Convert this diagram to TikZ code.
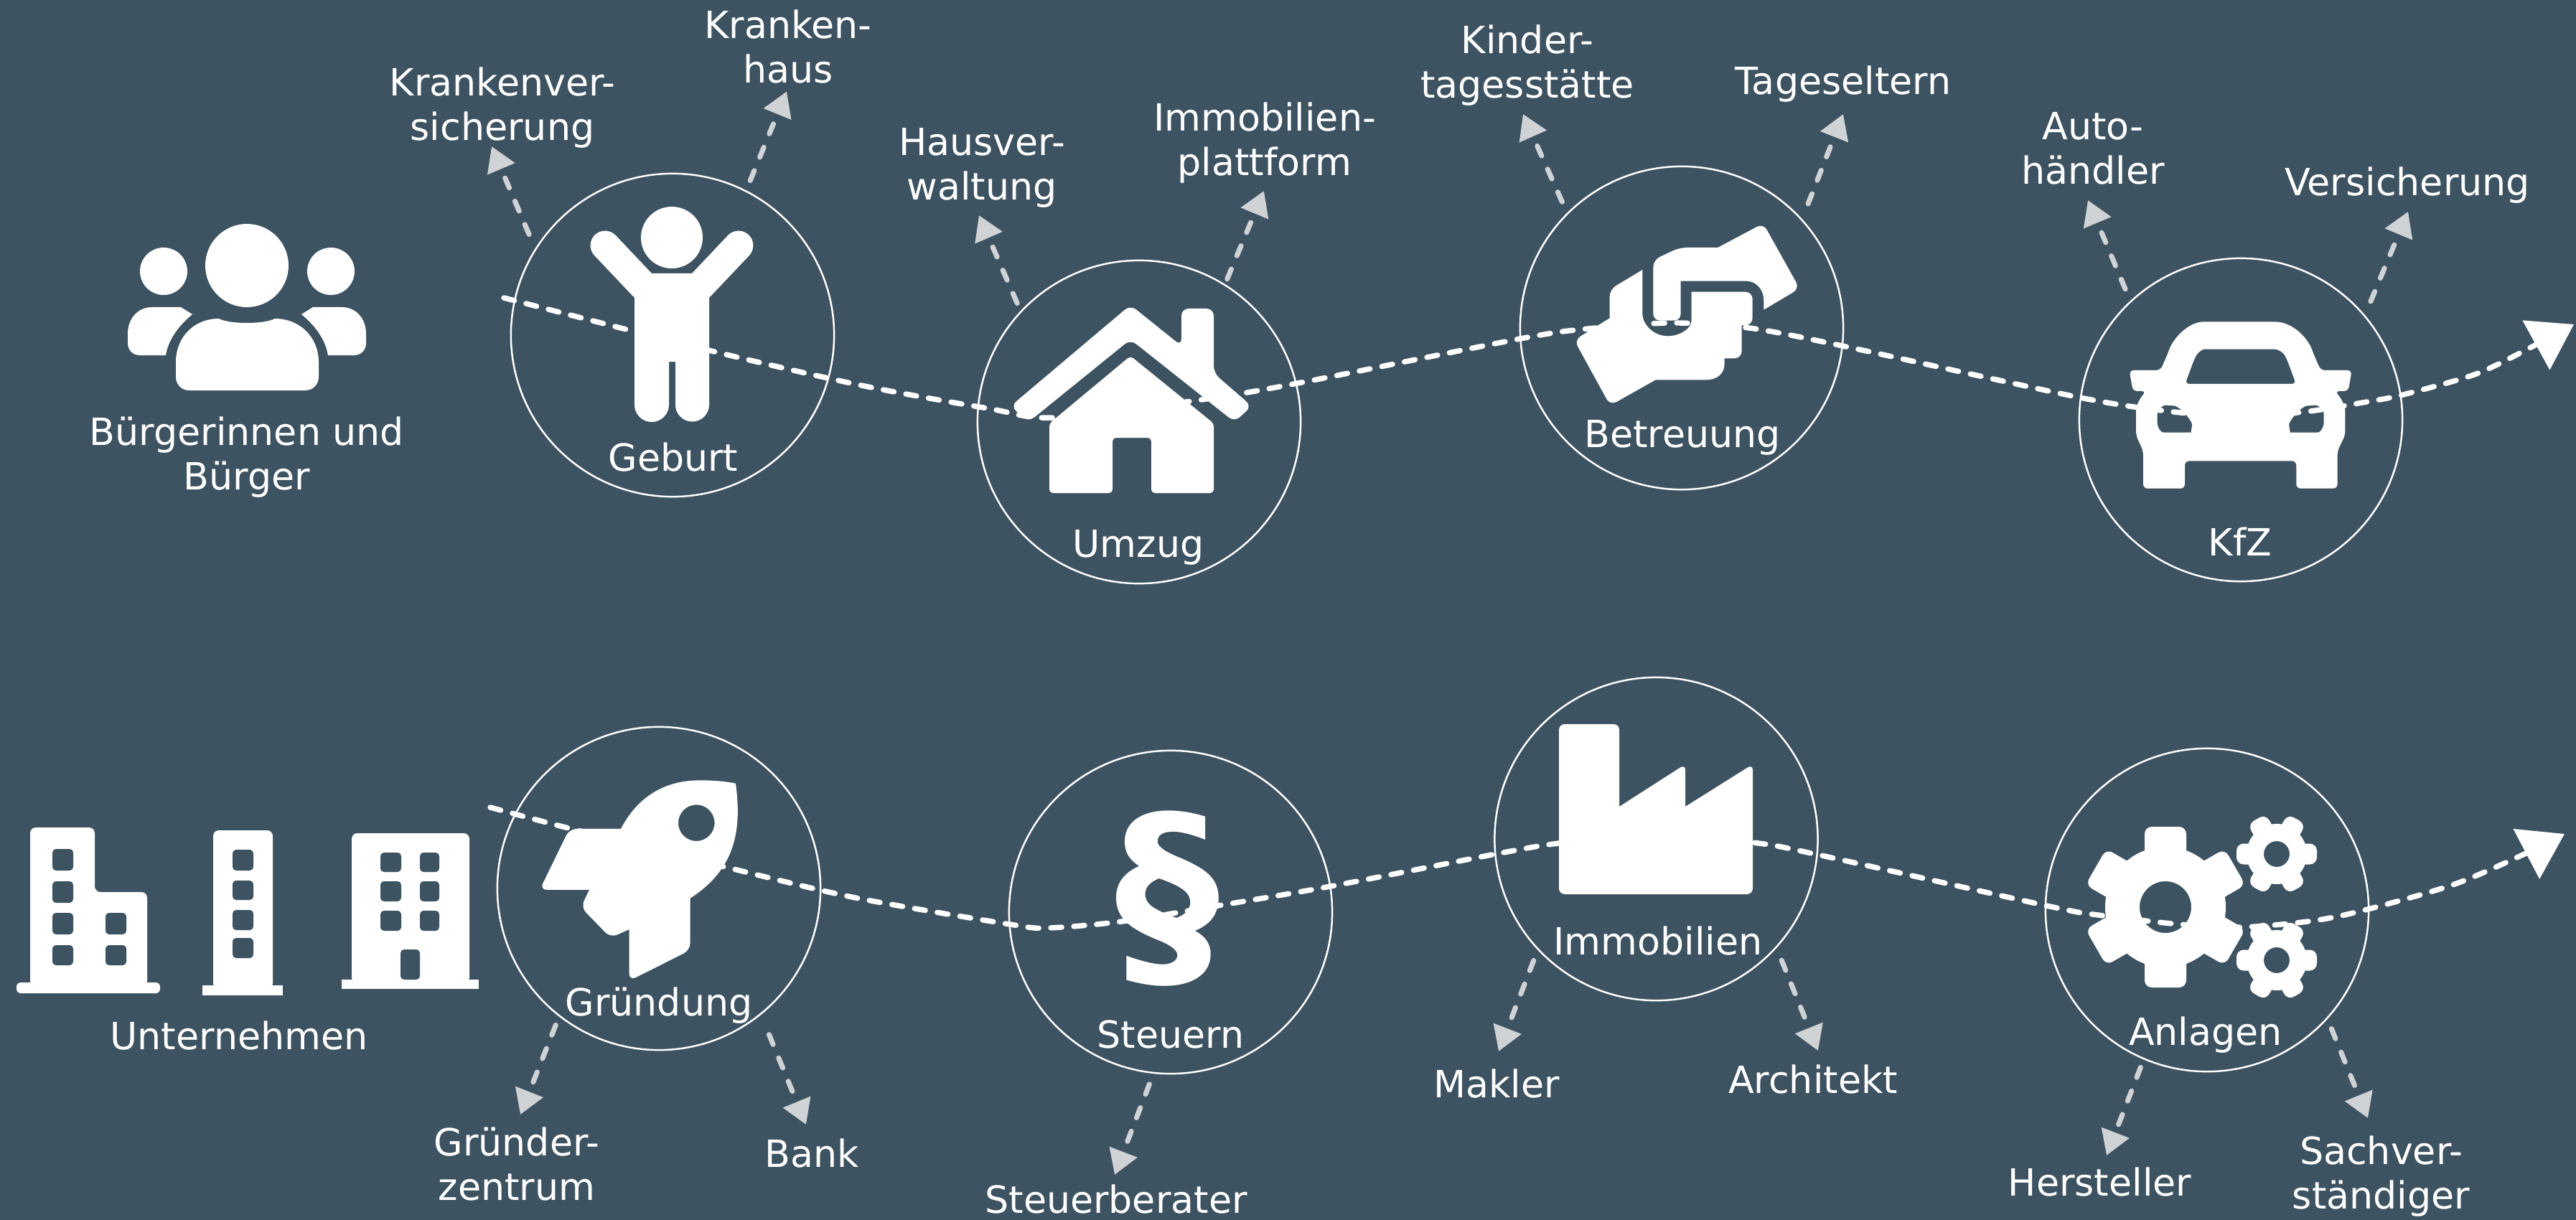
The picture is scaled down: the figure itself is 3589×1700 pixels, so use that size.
\documentclass[tikz,border=0pt]{standalone}
\usepackage{fontspec}
\setmainfont{DejaVu Sans}
\usetikzlibrary{arrows.meta,calc}
\definecolor{bgc}{HTML}{3E5361}
\definecolor{branchc}{HTML}{D0D3D6}
\tikzset{
    stage/.style={draw=white,circle,line width=.7pt,minimum size=4.5cm,inner sep=0,outer sep=0},
    lbl/.style={text=white,font=\fontsize{14.85}{17.6}\selectfont,align=center,inner sep=0,outer sep=0},
    wave/.style={draw=white,line width=2.1pt,line cap=round,dash pattern=on 4.3pt off 4.8pt,-{Triangle[length=6mm,width=7.7mm,fill=white]}},
    branch/.style={draw=branchc,line width=2pt,line cap=round,dash pattern=on 4.25pt off 5.75pt,-{Triangle[length=3.4mm,width=4mm,fill=branchc]}},
    hole/.style={fill=bgc,rounded corners=.5mm},
    rnd/.style={rounded corners=1mm},
}
\newcommand{\gearicon}[3]{
    \begin{scope}[shift={(#1)},scale=#2]
        \fill[white,even odd rule] (0,0) circle (42) (0,0) circle (18);
        \foreach \a in {0,60,...,300}
            \fill[white,rounded corners=1mm,rotate=#3+\a] (30,-14.5) rectangle (56,14.5);
    \end{scope}
}
\begin{document}
\begin{tikzpicture}[x=0.01cm,y=-0.01cm]
    \useasboundingbox (0,0) rectangle (3589,1700);
    \fill[bgc] (0,0) rectangle (3589,1700);

    \coordinate (topa) at (702,415);
    \coordinate (topb) at (3586,452);
    \coordinate (lowa) at (683,1125);
    \coordinate (lowb) at (3573,1162);
    \draw[wave] plot[smooth,tension=.5] coordinates {(topa) (987,488) (1200,537) (1376,569) (1468,582) (1667,558) (1808,534) (2118,472) (2213,458) (2330,450) (2437,457) (2567,482) (2893,553) (3020,573) (3115,580) (3210,574) (3297,560) (3348,550) (3450,521) (3530,482) (topb)};
    \draw[wave] plot[smooth,tension=.5] coordinates {(lowa) (796,1155) (1018,1210) (1192,1251) (1407,1288) (1460,1293) (1563,1284) (1697,1262) (1854,1235) (2084,1190) (2172,1175) (2300,1163) (2442,1174) (2533,1191) (2851,1262) (2923,1275) (3037,1288) (3123,1292) (3223,1283) (3299,1267) (3420,1232) (3515,1191) (lowb)};

    \node[stage] (geb) at (937,467) {};
    \node[stage] (umz) at (1587,588) {};
    \node[stage] (bet) at (2343,457) {};
    \node[stage] (kfz) at (3122,585) {};
    \node[stage] (gru) at (918,1238) {};
    \node[stage] (ste) at (1631,1271) {};
    \node[stage] (imm) at (2307.5,1169) {};
    \node[stage] (anl) at (3075,1268) {};

    \fill[white] (344,370) circle (58) (228,378) circle (33) (461,378) circle (33);
    \fill[white] (245,505) .. controls (245,470) and (270,444) .. (305,444) .. controls (320,452) and (368,452) .. (383,444) .. controls (418,444) and (444,470) .. (444,505) -- (444,525) .. controls (444,536) and (436,544) .. (425,544) -- (264,544) .. controls (253,544) and (245,536) .. (245,525) -- cycle;
    \fill[white] (268,438) .. controls (246,456) and (234,476) .. (231,495) -- (195,495) .. controls (185,495) and (178,488) .. (178,478) -- (178,465) .. controls (178,444) and (192,428) .. (212,428) -- (252,428) -- cycle;
    \fill[white] (420,438) .. controls (442,456) and (454,476) .. (457,495) -- (493,495) .. controls (503,495) and (510,488) .. (510,478) -- (510,465) .. controls (510,444) and (496,428) .. (476,428) -- (436,428) -- cycle;

    \fill[white] (936,331) circle (43);
    \draw[white,line width=11.6pt,line cap=round] (843,342) -- (896,398);
    \draw[white,line width=11.6pt,line cap=round] (1029,342) -- (976,398);
    \fill[white] (884,413) -- (907,381) -- (966,381) -- (988,413) -- (988,564) arc (0:180:23.5) -- (941,504) -- (932,504) -- (932,564) arc (0:180:24) -- cycle;

    \fill[white,rounded corners=1mm] (1408,566) -- (1575,425) -- (1646,482) -- (1646,430) -- (1691,430) -- (1691,520) -- (1744,566) -- (1720,588) -- (1575,473) -- (1433,588) -- cycle;
    \fill[white,rounded corners=.5mm] (1575,496) -- (1691,590) -- (1691,687) -- (1604,687) -- (1604,610) -- (1550,610) -- (1550,687) -- (1462,687) -- (1462,590) -- cycle;

    \begin{scope}[shift={(2180,290)},scale=.3333]
        \fill[white] (640,165) [rnd] -- (830,64) -- (982,336) [sharp corners] -- (832,425) -- (832,385) .. controls (832,340) and (800,305) .. (760,305) -- (485,305) -- (485,440) .. controls (485,458) and (475,470) .. (455,470) -- (400,470) .. controls (382,470) and (370,458) .. (370,440) [rnd] -- (370,217) -- (480,165) [sharp corners] -- cycle;
        \fill[white] (325,258) -- (325,440) .. controls (325,490) and (375,535) .. (430,535) .. controls (480,535) and (530,505) .. (530,470) -- (530,350) [rnd] -- (785,350) -- (785,490) [sharp corners] -- (740,490) [rnd] -- (740,628) [sharp corners] -- (668,628) -- (668,650) .. controls (668,690) and (640,718) .. (590,718) -- (380,718) [rnd] -- (190,825) -- (40,552) [sharp corners] -- (188,460) [rnd] -- (188,340) [sharp corners] -- cycle;
    \end{scope}

    \begin{scope}[shift={(2960,430)},scale=.3333]
        \fill[white,even odd rule,rounded corners=.6mm] (480,55) -- (610,55) .. controls (700,55) and (765,120) .. (790,190) -- (820,258) -- (950,258) -- (935,345) -- (880,345) .. controls (905,375) and (922,405) .. (922,445) -- (922,530) -- (890,595) -- (890,752) -- (718,752) -- (718,637) -- (252,637) -- (252,752) -- (78,752) -- (78,595) -- (48,530) -- (48,445) .. controls (48,405) and (65,375) .. (90,345) -- (35,345) -- (20,258) -- (150,258) -- (180,190) .. controls (205,120) and (270,55) .. (350,55) -- cycle
            (480,170) -- (610,170) .. controls (645,170) and (665,185) .. (680,215) -- (717,315) -- (253,315) -- (290,215) .. controls (305,185) and (325,170) .. (350,170) -- cycle
            (137,460) .. controls (137,420) and (160,403) .. (190,405) .. controls (230,408) and (285,470) .. (280,505) .. controls (278,515) and (265,518) .. (240,518) -- (180,518) .. controls (150,518) and (137,495) .. (137,460) -- cycle
            (833,460) .. controls (833,420) and (810,403) .. (780,405) .. controls (740,408) and (685,470) .. (690,505) .. controls (692,515) and (705,518) .. (730,518) -- (790,518) .. controls (820,518) and (833,495) .. (833,460) -- cycle;
    \end{scope}

    \begin{scope}[shift={(730,1070)},scale=.3333]
        \fill[white,even odd rule] (405,255) .. controls (470,130) and (580,50) .. (740,52) .. controls (790,52) and (840,56) .. (885,65) .. controls (910,250) and (890,420) .. (695,545) [rnd] -- (695,762) -- (440,890) [sharp corners] -- (440,675) [rnd] -- (362,710) -- (238,583) [sharp corners] -- (273,510) [rnd] -- (66,510) -- (190,255) [sharp corners] -- cycle
            (645,230) arc (180:540:76);
    \end{scope}

    \node[lbl,font=\fontsize{83}{83}\selectfont\bfseries] (par) at (1626,1252) {§};

    \fill[white] (2172,1246) [rounded corners=.8mm] -- (2172,1009) -- (2256,1009) [sharp corners] -- (2256,1124) [rounded corners=.8mm] -- (2348,1065) [sharp corners] -- (2348,1124) [rounded corners=.8mm] -- (2442,1065) -- (2442,1246) -- cycle;

    \gearicon{3017,1264}{2}{30}
    \gearicon{3172,1190}{1}{0}
    \gearicon{3172,1338}{1}{0}

    \fill[white,rounded corners=.6mm] (23,1369) rectangle (223,1384);
    \fill[white,rounded corners=.8mm] (42,1375) -- (42,1153) -- (132,1153) -- (132,1243) -- (205,1243) -- (205,1375) -- cycle;
    \foreach \a/\b in {1183/1213,1228/1258,1272/1302,1317/1345}
        \fill[hole] (73,\a) rectangle (102,\b);
    \foreach \a/\b in {1272/1302,1317/1345}
        \fill[hole] (147,\a) rectangle (176,\b);
    \fill[white] (282,1373) rectangle (394,1387);
    \fill[white,rounded corners=.8mm] (297,1378) -- (297,1157) -- (380,1157) -- (380,1378) -- cycle;
    \foreach \a/\b in {1184/1213,1227/1254,1268/1296,1307/1335}
        \fill[hole] (324,\a) rectangle (353,\b);
    \fill[white] (476,1365) rectangle (667,1378);
    \fill[white,rounded corners=.8mm] (490,1370) -- (490,1161) -- (654,1161) -- (654,1370) -- cycle;
    \foreach \a/\b in {1188/1215,1228/1256,1269/1297}{
        \fill[hole] (530,\a) rectangle (559,\b);
        \fill[hole] (585,\a) rectangle (612,\b);
    }
    \fill[hole] (558,1365) -- (558,1323) -- (585,1323) -- (585,1365) -- cycle;

    \node[lbl,anchor=south] (bue) at (344,693) {Bürgerinnen und\\Bürger};
    \node[lbl,anchor=base] (unt) at (333,1462) {Unternehmen};
    \node[lbl,anchor=base] (geblbl) at (938,656) {Geburt};
    \node[lbl,anchor=base] (umzlbl) at (1586,776) {Umzug};
    \node[lbl,anchor=base] (betlbl) at (2344,623) {Betreuung};
    \node[lbl,anchor=base] (kfzlbl) at (3121,774) {KfZ};
    \node[lbl,anchor=base] (grulbl) at (918,1415) {Gründung};
    \node[lbl,anchor=base] (stelbl) at (1631,1460) {Steuern};
    \node[lbl,anchor=base] (immlbl) at (2310,1330) {Immobilien};
    \node[lbl,anchor=base] (anllbl) at (3073,1456) {Anlagen};

    \node[lbl,anchor=south] (krv) at (700,206) {Krankenver-\\sicherung};
    \node[lbl,anchor=south] (krh) at (1098,116.5) {Kranken-\\haus};
    \node[lbl,anchor=south] (hav) at (1368,289) {Hausver-\\waltung};
    \node[lbl,anchor=south] (imp) at (1762,255) {Immobilien-\\plattform};
    \node[lbl,anchor=south] (kin) at (2128,147) {Kinder-\\tagesstätte};
    \node[lbl,anchor=south] (tag) at (2568,142) {Tageseltern};
    \node[lbl,anchor=south] (aut) at (2916,257) {Auto-\\händler};
    \node[lbl,anchor=south] (ver) at (3354,283) {Versicherung};
    \node[lbl,anchor=north] (grz) at (720,1571) {Gründer-\\zentrum};
    \node[lbl,anchor=north] (bnk) at (1131,1587) {Bank};
    \node[lbl,anchor=north] (stb) at (1555,1651) {Steuerberater};
    \node[lbl,anchor=north] (mak) at (2085,1490) {Makler};
    \node[lbl,anchor=north] (arc) at (2526,1484) {Architekt};
    \node[lbl,anchor=north] (her) at (2925.5,1627) {Hersteller};
    \node[lbl,anchor=north] (sac) at (3317.5,1583) {Sachver-\\ständiger};

    \draw[branch,shorten <=2.3mm] (geb.148) -- ($(krv.south)+(-15,-2)$);
    \draw[branch,shorten <=1.6mm] (geb.63) -- ($(krh.south)+(-2,11)$);
    \draw[branch,shorten <=1.3mm] (umz.137.5) -- ($(hav.south)+(-4,11)$);
    \draw[branch,shorten <=.9mm] (umz.58) -- ($(imp.south)+(-1,11)$);
    \draw[branch,shorten <=1.8mm] (bet.135.6) -- ($(kin.south)+(-6,12)$);
    \draw[branch,shorten <=2.4mm] (bet.42.6) -- ($(tag.south)+(0,17)$);
    \draw[branch,shorten <=1.9mm] (kfz.133) -- ($(aut.south)+(-7,22)$);
    \draw[branch,shorten <=2.2mm] (kfz.40.5) -- ($(ver.south)+(1,12)$);
    \draw[branch,shorten <=1.4mm] (gru.232.3) -- ($(grz.north)+(5,-18)$);
    \draw[branch,shorten <=3.1mm] (gru.-51.2) -- ($(bnk.north)+(-8,-20)$);
    \draw[branch,shorten <=1.7mm] (ste.264.5) -- ($(stb.north)+(-2,-14)$);
    \draw[branch,shorten <=1.7mm] (imm.223.8) -- ($(mak.north)+(3,-25)$);
    \draw[branch,shorten <=2mm] (imm.-42.8) -- ($(arc.north)+(7,-20)$);
    \draw[branch,shorten <=1.3mm] (anl.247) -- ($(her.north)+(9.5,-17)$);
    \draw[branch,shorten <=1.6mm] (anl.-42.2) -- ($(sac.north)+(-18.5,-25)$);
\end{tikzpicture}
\end{document}
